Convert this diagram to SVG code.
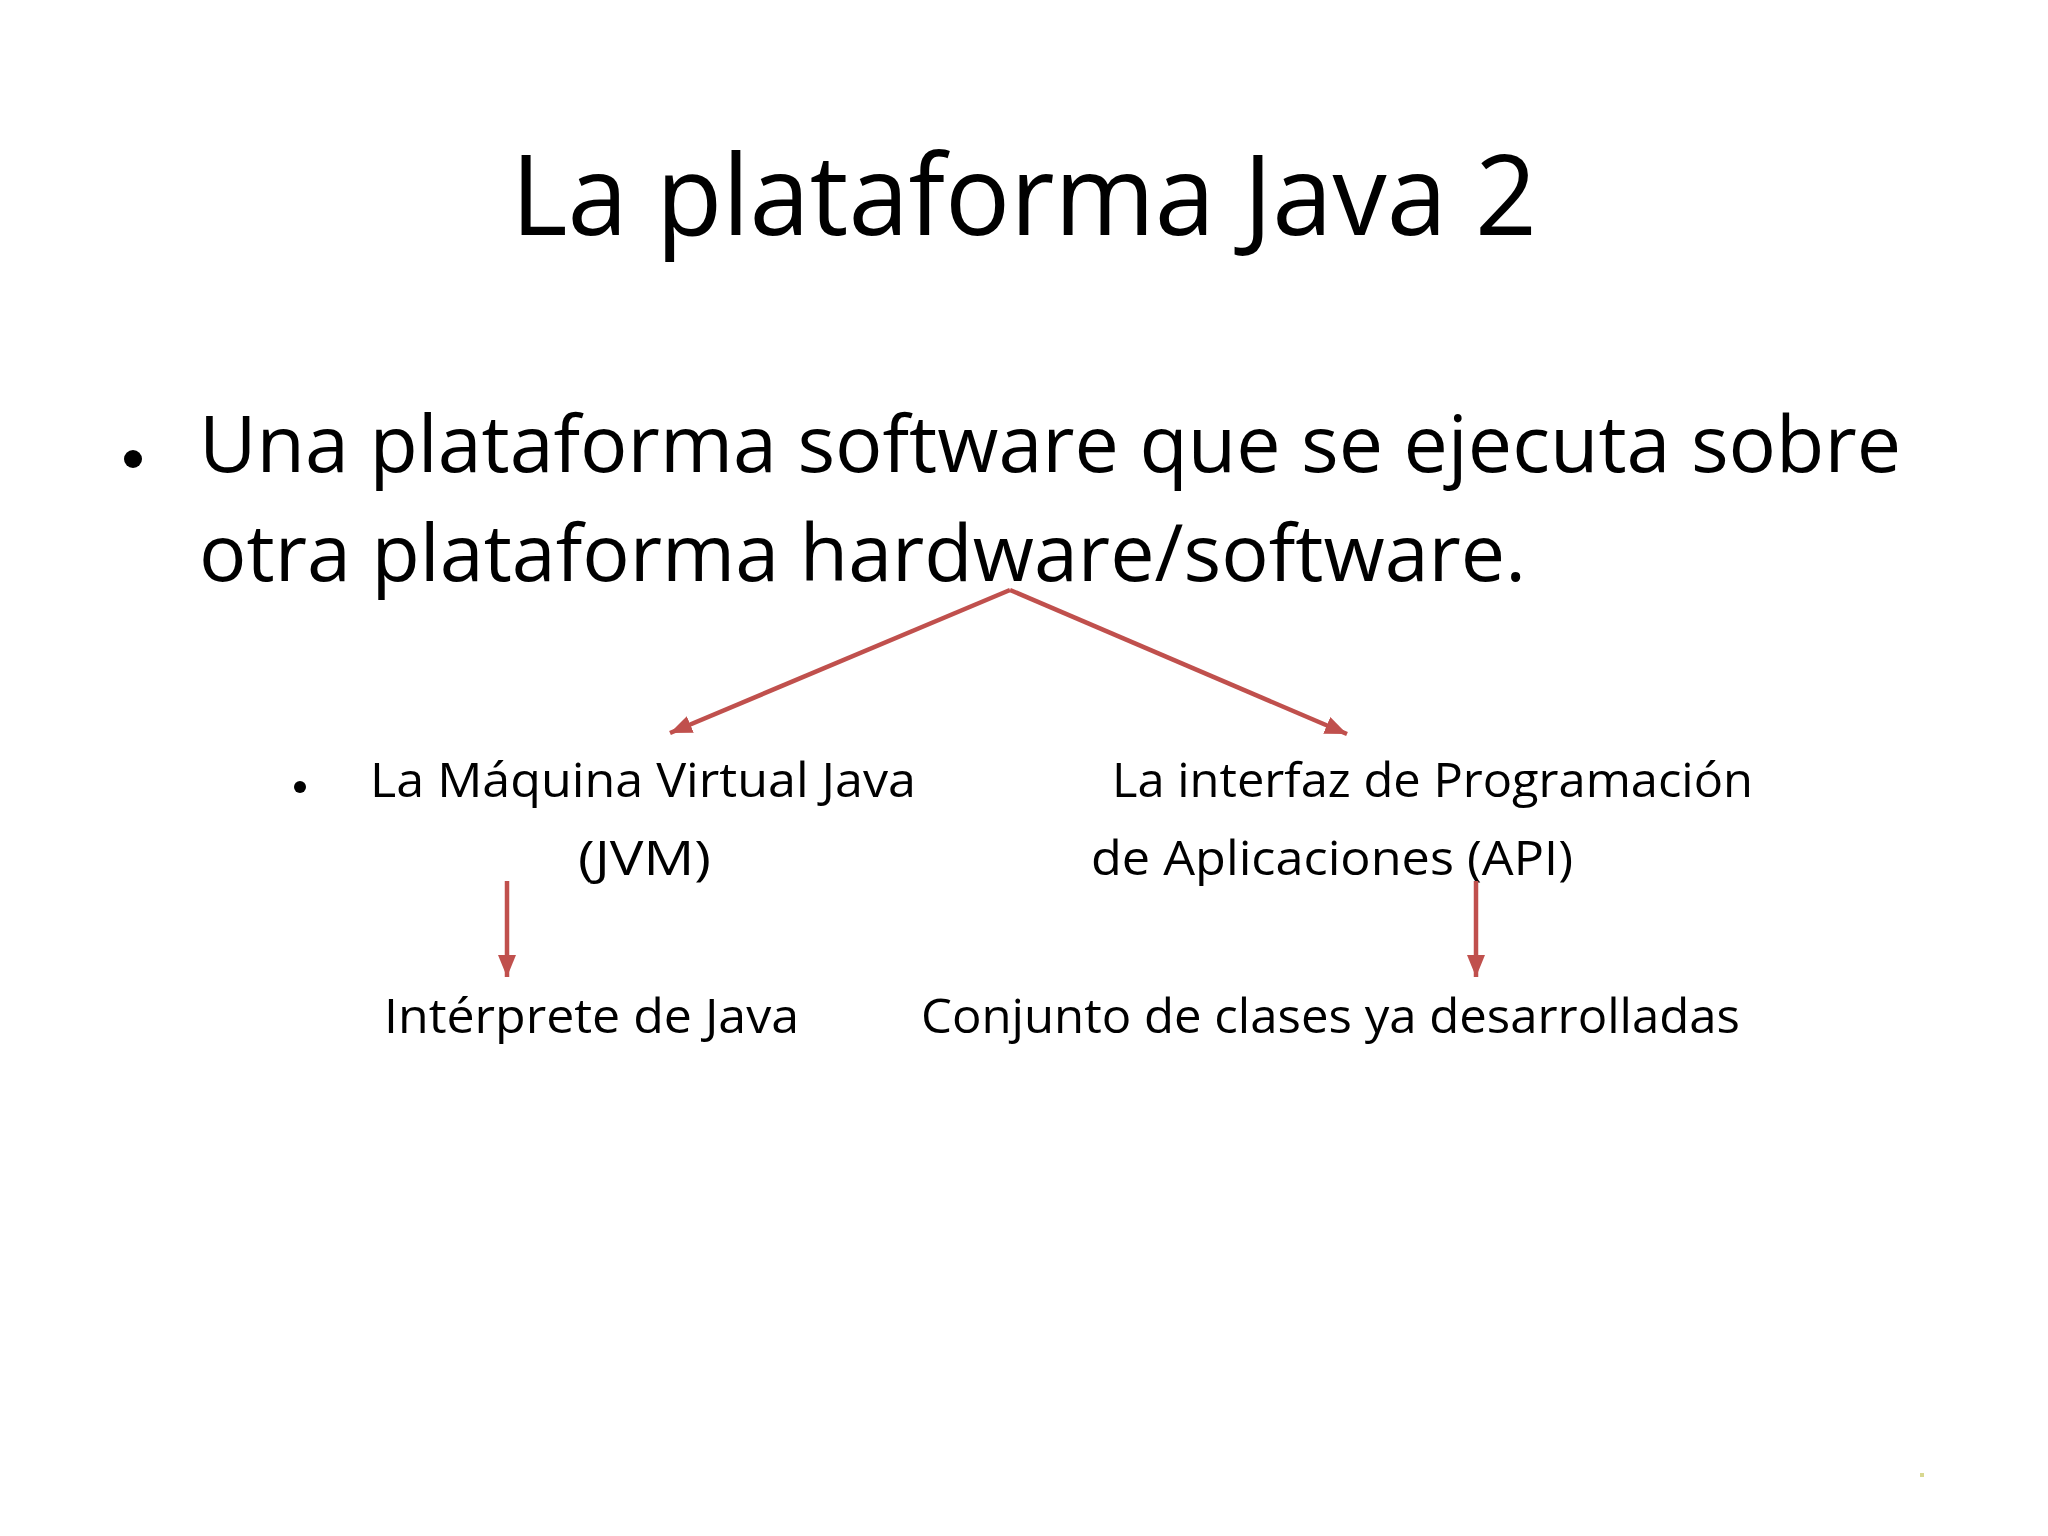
<svg xmlns="http://www.w3.org/2000/svg" width="2048" height="1536" viewBox="0 0 2048 1536">
<style>
text{font-family:"Open Sans","Noto Sans","Liberation Sans",sans-serif;fill:#000}
.title{font-size:112px}
.l1{font-size:78px}
.l2{font-size:48px}
.conn{stroke:#C0504D;stroke-width:4.5;fill:none}
</style>
<defs>
<marker id="ah" markerUnits="userSpaceOnUse" markerWidth="24" markerHeight="20" refX="22" refY="9" orient="auto">
<path d="M0,0 L22,9 L0,18 Z" fill="#C0504D"/>
</marker>
</defs>
<rect width="2048" height="1536" fill="#fff"/>
<g id="title"><text class="title" x="511" y="235" textLength="1026" lengthAdjust="spacingAndGlyphs">La plataforma Java 2</text></g>
<g id="main">
<circle cx="133" cy="459" r="9"/>
<text class="l1" x="199" y="472" textLength="1702" lengthAdjust="spacingAndGlyphs">Una plataforma software que se ejecuta sobre</text>
<text class="l1" x="199" y="581" textLength="1327" lengthAdjust="spacingAndGlyphs">otra plataforma hardware/software.</text>
</g>
<g id="jvm">
<circle cx="300" cy="787" r="6"/>
<text class="l2" x="370" y="797" textLength="546" lengthAdjust="spacingAndGlyphs">La Máquina Virtual Java</text>
<text class="l2" x="578" y="875" textLength="133" lengthAdjust="spacingAndGlyphs">(JVM)</text>
</g>
<g id="api">
<text class="l2" x="1112" y="797" textLength="641" lengthAdjust="spacingAndGlyphs">La interfaz de Programación</text>
<text class="l2" x="1091" y="875" textLength="482" lengthAdjust="spacingAndGlyphs">de Aplicaciones (API)</text>
</g>
<g id="interprete"><text class="l2" x="384" y="1033" textLength="415" lengthAdjust="spacingAndGlyphs">Intérprete de Java</text></g>
<g id="clases"><text class="l2" x="921" y="1033" textLength="819" lengthAdjust="spacingAndGlyphs">Conjunto de clases ya desarrolladas</text></g>
<g id="connectors">
<line class="conn" x1="1010" y1="590" x2="670" y2="733" marker-end="url(#ah)"/>
<line class="conn" x1="1010" y1="590" x2="1347" y2="734" marker-end="url(#ah)"/>
<line class="conn" x1="507" y1="881" x2="507" y2="977" marker-end="url(#ah)"/>
<line class="conn" x1="1476" y1="881" x2="1476" y2="977" marker-end="url(#ah)"/>
</g>
<rect x="1920" y="1473" width="4" height="4" fill="#d8d890"/>
</svg>
